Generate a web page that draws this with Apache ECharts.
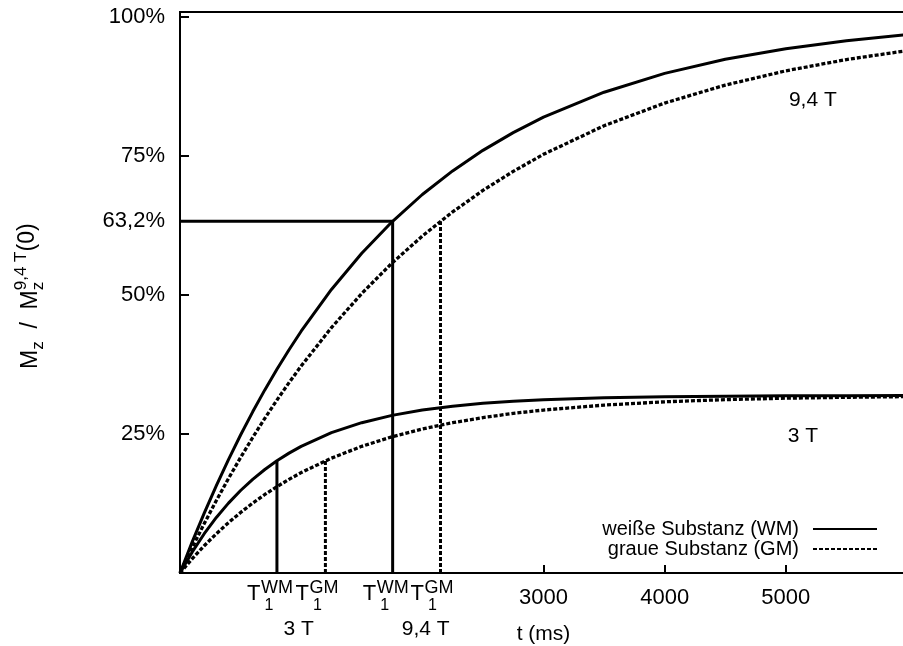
<!DOCTYPE html>
<html><head><meta charset="utf-8">
<script src="https://cdn.jsdelivr.net/npm/echarts@6/dist/echarts.min.js"></script>
<style>html,body{margin:0;padding:0;background:#fff}#c{width:903px;height:646px}</style>
</head><body><div id="c"></div>
<script>
// ---- data ----
const times = [0,100,200,300,400,500,600,700,800,900,1000,1250,1500,1750,2000,2250,2500,2750,3000,3500,4000,4500,5000,5500,6000];
const wm94 = [0,0.0554,0.1077,0.1571,0.2038,0.2479,0.2896,0.3290,0.3661,0.4012,0.4344,0.5095,0.5746,0.6311,0.6801,0.7225,0.7594,0.7913,0.8190,0.8639,0.8977,0.9230,0.9421,0.9565,0.9673];
const gm94 = [0,0.0454,0.0888,0.1302,0.1698,0.2075,0.2435,0.2779,0.3107,0.3420,0.3719,0.4409,0.5023,0.5569,0.6055,0.6488,0.6874,0.7216,0.7523,0.8037,0.8444,0.8767,0.9023,0.9226,0.9386];
const wm3 = [0,0.0375,0.0706,0.0998,0.1255,0.1482,0.1683,0.1860,0.2016,0.2154,0.2276,0.2521,0.2701,0.2832,0.2928,0.2998,0.3050,0.3088,0.3115,0.3150,0.3169,0.3178,0.3184,0.3187,0.3188];
const gm3 = [0,0.0255,0.0490,0.0706,0.0904,0.1087,0.1255,0.1411,0.1552,0.1683,0.1804,0.2064,0.2276,0.2448,0.2587,0.2701,0.2793,0.2868,0.2928,0.3017,0.3076,0.3115,0.3141,0.3157,0.3169];
// T1 markers: [3T WM, 3T GM, 9.4T WM, 9.4T GM]
const t1Times = [800, 1200, 1755, 2150];
const t1Levels = [0.2016, 0.2016, 0.632, 0.632];
const t1Tissue = ['WM','GM','WM','GM'];
const fieldNames = ['3 T', '9,4 T'];
const fieldLabelTimes = [979, 2028];
const curveLabelPos = [[5140, 0.246], [5223, 0.849]]; // '3 T', '9,4 T' in plot
const yTickValues = [0.25, 0.5, 0.75, 1];
const yLabelValues = [0.25, 0.5, 0.632, 0.75, 1];
const yLabelTexts = ['25%','50%','63,2%','75%','100%'];
const xTickValues = [3000, 4000, 5000];
const xLabelTexts = ['3000','4000','5000'];
const legendNames = ['weiße Substanz (WM)', 'graue Substanz (GM)'];

const FONT = 'Liberation Sans, Arial, Helvetica, sans-serif';
const BLACK = '#000';
const DASH = [4, 2];

const pairs = arr => times.map((t, i) => [t, arr[i]]);
const curve = (name, arr, dashed) => ({
  type: 'line', name, data: pairs(arr), symbol: 'none', smooth: false,
  lineStyle: { color: BLACK, width: dashed ? 3.3 : 3, type: dashed ? DASH : 'solid', join: 'round' },
  itemStyle: { color: BLACK }, z: 3, animation: false
});
const refLines = t1Times.map((t, i) => ({
  type: 'line', name: 'ref' + i, data: [[t, 0], [t, t1Levels[i]]], symbol: 'none',
  lineStyle: { color: BLACK, width: 3, type: t1Tissue[i] === 'GM' ? DASH : 'solid' }, z: 2, animation: false
}));
refLines.push({
  type: 'line', name: 'refH', data: [[0, t1Levels[2]], [t1Times[2], t1Levels[2]]], symbol: 'none',
  lineStyle: { color: BLACK, width: 3 }, z: 2, animation: false
});

const chart = echarts.init(document.getElementById('c'), null, { renderer: 'canvas' });
const option = {
  animation: false,
  backgroundColor: '#fff',
  textStyle: { fontFamily: FONT, color: BLACK },
  grid: { left: 180, right: -4, top: 12, bottom: 73, show: true, borderColor: BLACK, borderWidth: 2,
    backgroundColor: 'transparent', containLabel: false, outerBoundsMode: 'none' },
  legend: {
    data: legendNames, orient: 'vertical', align: 'right', right: 25, top: 519, padding: 0,
    itemWidth: 64, itemHeight: 23, itemGap: 0, selectedMode: false,
    itemStyle: { opacity: 0, color: 'transparent', borderWidth: 0 },
    textStyle: { fontSize: 20, color: BLACK, fontFamily: FONT, padding: [0, 9, 0, 0] }
  },
  xAxis: {
    type: 'value', min: 0, max: 6000,
    name: 't (ms)', nameLocation: 'middle', nameGap: 51,
    nameTextStyle: { fontSize: 21, color: BLACK, fontFamily: FONT },
    splitLine: { show: false },
    axisLine: { show: true, lineStyle: { color: BLACK, width: 2 } },
    axisTick: { show: true, inside: true, length: 8, lineStyle: { color: BLACK, width: 2 }, customValues: xTickValues },
    axisLabel: { customValues: xTickValues, fontSize: 22, color: BLACK, fontFamily: FONT, margin: 14,
      formatter: v => xLabelTexts[xTickValues.indexOf(v)] }
  },
  yAxis: {
    type: 'value', min: 0, max: 1.008,
    splitLine: { show: false },
    axisLine: { show: true, lineStyle: { color: BLACK, width: 2 } },
    axisTick: { show: true, inside: true, length: 9, lineStyle: { color: BLACK, width: 2 }, customValues: yTickValues },
    axisLabel: { customValues: yLabelValues, fontSize: 22, color: BLACK, fontFamily: FONT, margin: 15,
      formatter: v => yLabelTexts[yLabelValues.indexOf(v)] }
  },
  series: [
    curve(legendNames[0], wm94, false),
    curve(legendNames[1], gm94, true),
    curve(legendNames[0], wm3, false),
    curve(legendNames[1], gm3, true)
  ].concat(refLines)
};
chart.setOption(option);

// ---- text annotations positioned through the axes ----
const px = (t, v) => chart.convertToPixel({ gridIndex: 0 }, [t, v]);
const txt = (text, x, y, size, align) => ({
  type: 'text', x, y, silent: true,
  style: { text, fontSize: size, fontFamily: FONT, fill: BLACK, align: align || 'left', verticalAlign: 'middle' }
});
const axisY = px(0, 0)[1];
const g = [];
t1Times.forEach((t, i) => {
  const L = px(t, 0)[0];
  g.push(txt('T', L - 30, axisY + 21, 22));
  g.push(txt(t1Tissue[i], L - 16, axisY + 15, 18));
  g.push(txt('1', L - 12.5, axisY + 33, 16));
});
fieldNames.forEach((n, i) => {
  g.push(txt(n, px(fieldLabelTimes[i], 0)[0], axisY + 56, 21, 'center'));
});
fieldNames.forEach((n, i) => {
  const p = px(curveLabelPos[i][0], curveLabelPos[i][1]);
  g.push(txt(n, p[0], p[1], 21, 'center'));
});
// rotated y-axis title: M_z / M_z^{9,4 T}(0)
const meas = document.createElement('canvas').getContext('2d');
const w = (s, f) => { meas.font = f + 'px ' + FONT; return meas.measureText(s).width; };
const pieces = [
  ['M', 23, 0, 1], ['z', 17, 7, 1], ['  /  ', 23, 0, 1], ['M', 23, 0, 1],
  ['z', 17, 7, 0], ['9,4', 17, -10, 1], [' T', 17, -10, 1], ['(0)', 23, -3, 1]
];
let cx = 0; const titleKids = [];
let stackW = 0;
pieces.forEach(p => {
  titleKids.push(txt(p[0], cx, p[2], p[1]));
  const ww = w(p[0], p[1]);
  if (p[3]) { cx += Math.max(ww, stackW); stackW = 0; } else { stackW = ww; }
});
g.push({ type: 'group', x: 31, y: 369, rotation: Math.PI / 2, children: titleKids });
chart.setOption({ graphic: { elements: g } });
</script>
</body></html>
